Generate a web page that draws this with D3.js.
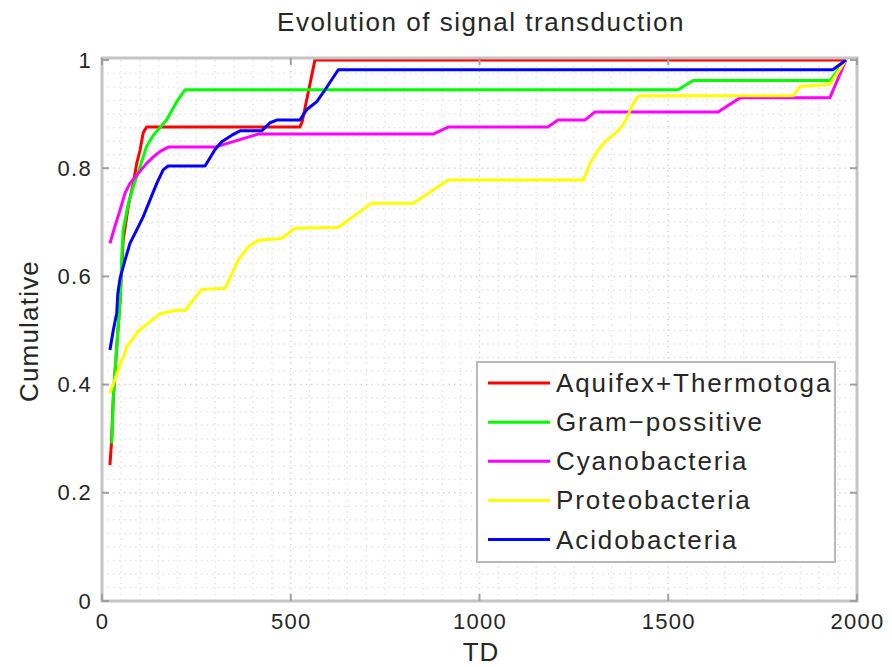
<!DOCTYPE html>
<html>
<head>
<meta charset="utf-8">
<script src="https://cdn.jsdelivr.net/npm/d3@7"></script>
<style>
  html, body { margin: 0; padding: 0; background: #fff; }
  svg { display: block; }
  text { font-family: "Liberation Sans", Arial, Helvetica, sans-serif; fill: #262626; }
</style>
</head>
<body>
<svg id="chart" width="892" height="667"></svg>
<script>
// Cumulative fraction versus TD for each bacterial group
const seriesNames = ["Aquifex+Thermotoga", "Gram\u2212possitive", "Cyanobacteria", "Proteobacteria", "Acidobacteria"];
const seriesColors = ["#ff0000", "#00ff00", "#ff00ff", "#ffff00", "#0000ff"];

const aquifexTD  = [21, 25, 30, 39, 48, 56, 70, 83, 92, 101, 109, 118, 524, 530, 564, 1971];
const aquifexCum = [0.251, 0.292, 0.377, 0.469, 0.556, 0.667, 0.732, 0.772, 0.809, 0.834, 0.865, 0.876, 0.876, 0.885, 1.0, 1.0];

const gramTD  = [26, 30, 34, 39, 48, 52, 56, 70, 83, 101, 118, 136, 171, 198, 220, 1526, 1566, 1928, 1971];
const gramCum = [0.291, 0.378, 0.421, 0.470, 0.556, 0.630, 0.686, 0.735, 0.766, 0.803, 0.840, 0.861, 0.889, 0.923, 0.945, 0.945, 0.962, 0.962, 1.0];

const cyanoTD  = [21, 34, 48, 61, 74, 92, 118, 136, 154, 176, 299, 414, 877, 917, 1181, 1208, 1279, 1306, 1632, 1690, 1928, 1971];
const cyanoCum = [0.661, 0.692, 0.723, 0.754, 0.772, 0.787, 0.809, 0.821, 0.831, 0.839, 0.839, 0.863, 0.863, 0.876, 0.876, 0.889, 0.889, 0.904, 0.904, 0.930, 0.930, 1.0];

const proteoTD  = [21, 34, 43, 48, 61, 65, 79, 98, 127, 154, 193, 220, 264, 326, 361, 388, 414, 476, 511, 626, 714, 825, 917, 1275, 1293, 1315, 1337, 1359, 1377, 1390, 1403, 1416, 1425, 1831, 1849, 1928, 1971];
const proteoCum = [0.384, 0.409, 0.427, 0.439, 0.458, 0.470, 0.482, 0.500, 0.516, 0.531, 0.537, 0.537, 0.576, 0.578, 0.630, 0.655, 0.667, 0.670, 0.689, 0.691, 0.735, 0.735, 0.778, 0.778, 0.809, 0.834, 0.852, 0.864, 0.877, 0.892, 0.914, 0.929, 0.934, 0.934, 0.951, 0.955, 1.0];

const acidoTD  = [21, 30, 39, 42, 48, 61, 74, 92, 109, 127, 145, 162, 175, 273, 299, 317, 344, 366, 423, 445, 463, 524, 542, 569, 591, 608, 626, 1936, 1971];
const acidoCum = [0.464, 0.501, 0.532, 0.569, 0.597, 0.630, 0.661, 0.686, 0.710, 0.741, 0.772, 0.797, 0.804, 0.804, 0.834, 0.849, 0.861, 0.869, 0.869, 0.884, 0.889, 0.889, 0.908, 0.923, 0.945, 0.963, 0.982, 0.982, 1.0];

const seriesTD  = [aquifexTD, gramTD, cyanoTD, proteoTD, acidoTD];
const seriesCum = [aquifexCum, gramCum, cyanoCum, proteoCum, acidoCum];

const xTicks = [0, 500, 1000, 1500, 2000];
const yTicks = [0, 0.2, 0.4, 0.6, 0.8, 1];
const yTickLabels = ["0", "0.2", "0.4", "0.6", "0.8", "1"];

const titleText = "Evolution of signal transduction";
const xLabel = "TD";
const yLabel = "Cumulative";

const svg = d3.select("#chart");
const plotLeft = 102, plotRight = 857, plotTop = 60, plotBottom = 601;

const x = d3.scaleLinear().domain([0, 2000]).range([plotLeft, plotRight]);
const y = d3.scaleLinear().domain([0, 1]).range([plotBottom, plotTop]);

// dotted minor grid
const grid = svg.append("g");
grid.selectAll("line.gx").data(d3.range(50, 2000, 50)).join("line")
  .attr("x1", d => x(d)).attr("x2", d => x(d))
  .attr("y1", plotTop).attr("y2", plotBottom)
  .attr("stroke", d => d % 500 === 0 ? "#d6d6d6" : "#e6e6e6")
  .attr("stroke-width", 1.5)
  .attr("stroke-dasharray", "1.5,4");
grid.selectAll("line.gy").data(d3.range(1, 40).map(i => i * 0.025)).join("line")
  .attr("y1", d => y(d)).attr("y2", d => y(d))
  .attr("x1", plotLeft).attr("x2", plotRight)
  .attr("stroke", (d, i) => (i + 1) % 8 === 0 ? "#d6d6d6" : "#e6e6e6")
  .attr("stroke-width", 1.5)
  .attr("stroke-dasharray", "1.5,4");

// series lines
const line = d3.line().x(d => x(d[0])).y(d => y(d[1]));
seriesNames.forEach((name, i) => {
  const pts = seriesTD[i].map((t, j) => [t, seriesCum[i][j]]);
  svg.append("path")
    .datum(pts)
    .attr("d", line)
    .attr("fill", "none")
    .attr("stroke", seriesColors[i])
    .attr("stroke-width", 3)
    .attr("stroke-linejoin", "round");
});

// axes box with inward ticks on all sides
const frame = svg.append("g");
frame.append("rect")
  .attr("x", plotLeft).attr("y", plotTop - 2)
  .attr("width", plotRight - plotLeft).attr("height", plotBottom - plotTop + 2)
  .attr("fill", "none").attr("stroke", "#c4c4c4").attr("stroke-width", 3);

const tickLen = 7;
xTicks.forEach(t => {
  frame.append("line").attr("x1", x(t)).attr("x2", x(t)).attr("y1", plotBottom).attr("y2", plotBottom - tickLen)
    .attr("stroke", "#a0a0a0").attr("stroke-width", 2);
  frame.append("line").attr("x1", x(t)).attr("x2", x(t)).attr("y1", plotTop - 2).attr("y2", plotTop - 2 + tickLen)
    .attr("stroke", "#a0a0a0").attr("stroke-width", 2);
});
yTicks.forEach(t => {
  frame.append("line").attr("y1", y(t)).attr("y2", y(t)).attr("x1", plotLeft).attr("x2", plotLeft + tickLen)
    .attr("stroke", "#a0a0a0").attr("stroke-width", 2);
  frame.append("line").attr("y1", y(t)).attr("y2", y(t)).attr("x1", plotRight).attr("x2", plotRight - tickLen)
    .attr("stroke", "#a0a0a0").attr("stroke-width", 2);
});

// tick labels
const xAxis = d3.axisBottom(x).tickValues(xTicks).tickSize(0).tickPadding(12).tickFormat(d3.format("d"));
const gx = svg.append("g").attr("transform", `translate(0,${plotBottom})`).call(xAxis);
gx.select(".domain").remove();
gx.selectAll("text").attr("font-size", 22).attr("letter-spacing", 1.3).attr("fill", "#262626")
  .attr("font-family", "Liberation Sans, Arial, sans-serif");

const yAxis = d3.axisLeft(y).tickValues(yTicks).tickSize(0).tickPadding(10)
  .tickFormat((d, i) => yTickLabels[i]);
const gy = svg.append("g").attr("transform", `translate(${plotLeft},0)`).call(yAxis);
gy.select(".domain").remove();
gy.selectAll("text").attr("font-size", 22).attr("letter-spacing", 1.3).attr("fill", "#262626")
  .attr("font-family", "Liberation Sans, Arial, sans-serif");

// title and axis labels
svg.append("text").attr("x", 481).attr("y", 31).attr("text-anchor", "middle")
  .attr("font-size", 26).attr("letter-spacing", 1.5).text(titleText);
svg.append("text").attr("x", 481).attr("y", 661).attr("text-anchor", "middle")
  .attr("font-size", 26).attr("letter-spacing", 1).text(xLabel);
svg.append("text").attr("transform", "translate(38,331) rotate(-90)").attr("text-anchor", "middle")
  .attr("font-size", 26).attr("letter-spacing", 1.2).text(yLabel);

// legend
const legend = svg.append("g");
legend.append("rect").attr("x", 477).attr("y", 362).attr("width", 358).attr("height", 200)
  .attr("fill", "#fff").attr("stroke", "#b8b8b8").attr("stroke-width", 2);
const rowY = d3.scalePoint().domain(seriesNames).range([383, 539.5]);
seriesNames.forEach((name, i) => {
  const ry = rowY(name);
  legend.append("line").attr("x1", 488).attr("x2", 550).attr("y1", ry).attr("y2", ry)
    .attr("stroke", seriesColors[i]).attr("stroke-width", 3);
  legend.append("text").attr("x", 556).attr("y", ry + 9)
    .attr("font-size", 26).attr("letter-spacing", 1.9).text(name);
});
</script>
</body>
</html>
